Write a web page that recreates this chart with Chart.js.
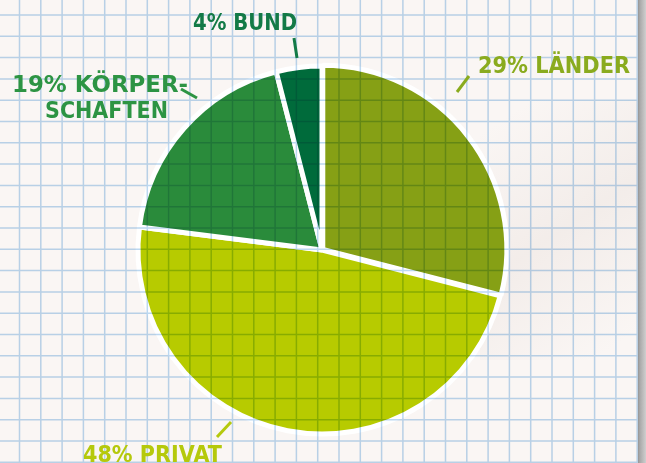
<!DOCTYPE html>
<html>
<head>
<meta charset="utf-8">
<script src="https://cdn.jsdelivr.net/npm/chart.js@4"></script>
<style>
  html, body { margin: 0; padding: 0; background: #f8f4f2; }
  #wrap { position: relative; width: 646px; height: 463px; }
</style>
</head>
<body>
<div id="wrap"><canvas id="finanzChart" width="646" height="463"></canvas></div>
<script>
  // Anteile (Prozent), im Uhrzeigersinn ab 12 Uhr
  var kategorien = ["LÄNDER", "PRIVAT", "KÖRPERSCHAFTEN", "BUND"];
  var anteile = [29, 48, 19, 4];
  var farben = ["#86a015", "#b7cb00", "#2a8b3b", "#006b3b"];
  var textFarben = ["#8aab1e", "#b5c90c", "#2d9443", "#137a47"];

  // Beschriftungen: Zeilen, linke Kante, Grundlinie, Breite
  var labelZeilen = [
    [["29% LÄNDER", 478, 73, 152]],
    [["48% PRIVAT", 83, 462, 139]],
    [["19% KÖRPER-", 12, 92, 176], ["SCHAFTEN", 45, 118, 123]],
    [["4% BUND", 193, 30, 104]]
  ];
  // Hinweisstriche
  var striche = [
    [457, 92, 469, 76],
    [231, 422, 217, 437],
    [181, 89, 197, 98],
    [294, 38, 297, 58]
  ];

  var papier = {
    id: 'papier',
    beforeDraw: function(chart) {
      var c = chart.ctx;
      c.save();
      c.fillStyle = '#faf6f4';
      c.fillRect(0, 0, chart.width, chart.height);
      // leichter Schatten auf dem Papier
      var g = c.createLinearGradient(500, 120, 640, 330);
      g.addColorStop(0, 'rgba(200,180,170,0)');
      g.addColorStop(0.5, 'rgba(200,180,170,0.14)');
      g.addColorStop(1, 'rgba(200,180,170,0)');
      c.fillStyle = g;
      c.fillRect(480, 100, 160, 260);
      c.restore();
    },
    afterDatasetsDraw: function(chart) {
      var c = chart.ctx;
      c.save();
      c.globalCompositeOperation = 'multiply';
      c.strokeStyle = '#bcd8f1';
      c.lineWidth = 1.5;
      c.beginPath();
      for (var x = 19.5; x < 640; x += 21.3) {
        c.moveTo(x, 0); c.lineTo(x, chart.height);
      }
      for (var y = 15; y < chart.height; y += 21.3) {
        c.moveTo(0, y); c.lineTo(638, y);
      }
      c.stroke();
      c.restore();
      // Papierkante rechts
      c.save();
      var g = c.createLinearGradient(637, 0, 646, 0);
      g.addColorStop(0, '#8a8a8a');
      g.addColorStop(0.3, '#a8a8a8');
      g.addColorStop(1, '#cfcfcf');
      c.fillStyle = g;
      c.fillRect(638, 0, 8, chart.height);
      c.restore();
    },
    afterDraw: function(chart) {
      var c = chart.ctx;
      c.save();
      c.lineWidth = 3;
      c.lineCap = 'butt';
      for (var i = 0; i < striche.length; i++) {
        var s = striche[i];
        c.strokeStyle = textFarben[i];
        c.beginPath();
        c.moveTo(s[0], s[1]); c.lineTo(s[2], s[3]);
        c.stroke();
      }
      c.font = 'bold 23px "DejaVu Sans"';
      c.textBaseline = 'alphabetic';
      for (var j = 0; j < labelZeilen.length; j++) {
        c.fillStyle = textFarben[j];
        labelZeilen[j].forEach(function(z) {
          var w = c.measureText(z[0]).width;
          c.save();
          c.translate(z[1], z[2]);
          c.scale(z[3] / w, 1);
          c.fillText(z[0], 0, 0);
          c.restore();
        });
      }
      c.restore();
    }
  };

  var ctx = document.getElementById('finanzChart').getContext('2d');
  var chart = new Chart(ctx, {
    type: 'pie',
    data: {
      labels: kategorien,
      datasets: [{
        data: anteile,
        backgroundColor: farben,
        borderColor: '#ffffff',
        borderWidth: 5,
        offset: [4, 0, 0, 0],
        radius: 184
      }]
    },
    options: {
      responsive: false,
      animation: false,
      layout: { padding: { top: 66, bottom: 29, left: 138, right: 140 } },
      plugins: {
        legend: { display: false },
        tooltip: { enabled: false }
      }
    },
    plugins: [papier]
  });
</script>
</body>
</html>
